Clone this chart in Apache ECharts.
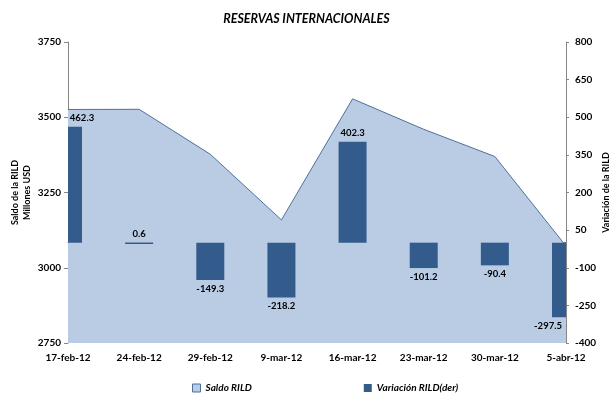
<!DOCTYPE html>
<html>
<head>
<meta charset="utf-8">
<script src="https://cdn.jsdelivr.net/npm/echarts@6/dist/echarts.min.js"></script>
<style>
  html, body { margin: 0; padding: 0; background: #fff; }
  #chart { width: 613px; height: 401px; }
</style>
</head>
<body>
<div id="chart"></div>
<script>
// fechas semanales
const fechas = ['17-feb-12', '24-feb-12', '29-feb-12', '9-mar-12', '16-mar-12', '23-mar-12', '30-mar-12', '5-abr-12'];
// saldo RILD (millones USD), eje izquierdo
const saldo = [3525.8, 3526.4, 3377.1, 3158.9, 3561.2, 3460.0, 3369.6, 3072.1];
// variacion RILD (der)
const variacion = [462.3, 0.6, -149.3, -218.2, 402.3, -101.2, -90.4, -297.5];

const FONT = 'Lato, "Liberation Sans", sans-serif';
const BAR_COLOR = '#335c8c';
const AREA_COLOR = '#b9cce4';
const chart = echarts.init(document.getElementById('chart'));

// desplazar etiqueta de la primera y ultima barra (cortadas por el borde)
const labelShift = { 0: 14, 7: -18 };

// barras centradas en las marcas, recortadas al area del grafico
function renderBar(params, api) {
  const i = api.value(0);
  const v = api.value(1);
  const base = api.coord([i, 0]);
  const end = api.coord([i, v]);
  const w = 28;
  const cs = params.coordSys;
  const rect = echarts.graphic.clipRectByRect({
    x: base[0] - w / 2,
    y: Math.min(base[1], end[1]),
    width: w,
    height: Math.max(Math.abs(end[1] - base[1]), 1.5)
  }, { x: cs.x, y: cs.y, width: cs.width, height: cs.height });
  const lx = base[0] + (labelShift[i] || 0);
  return {
    type: 'group',
    children: [
      rect && { type: 'rect', shape: rect, style: { fill: BAR_COLOR } },
      {
        type: 'text',
        x: lx,
        y: v >= 0 ? Math.min(base[1], end[1]) - 4 : Math.max(base[1], end[1]) + 4,
        style: {
          text: String(v),
          textAlign: 'center',
          textVerticalAlign: v >= 0 ? 'bottom' : 'top',
          font: 'bold 9.5px ' + FONT,
          fill: '#000'
        }
      }
    ].filter(Boolean)
  };
}

const axisText = { fontFamily: FONT, fontSize: 10, fontWeight: 'bold', color: '#000' };

const option = {
  animation: false,
  title: {
    text: 'RESERVAS INTERNACIONALES',
    left: 'center',
    top: 7,
    textStyle: { fontFamily: FONT, fontSize: 12.5, fontWeight: 'bold', fontStyle: 'italic', color: '#000' }
  },
  legend: {
    left: 187,
    bottom: 3,
    itemGap: 112,
    itemWidth: 8,
    itemHeight: 8,
    textStyle: { fontFamily: FONT, fontSize: 10, fontWeight: 'bold', fontStyle: 'italic', color: '#000' },
    data: [
      { name: 'Saldo RILD', icon: 'rect', itemStyle: { color: AREA_COLOR, borderColor: '#4f6f9c', borderWidth: 1 } },
      { name: 'Variación RILD(der)', icon: 'rect', itemStyle: { color: BAR_COLOR } }
    ]
  },
  grid: { left: 68, right: 47, top: 42, bottom: 58, outerBoundsMode: 'none', containLabel: false },
  xAxis: {
    type: 'category',
    data: fechas,
    boundaryGap: false,
    axisLine: { lineStyle: { color: '#868686' } },
    axisTick: { show: true, lineStyle: { color: '#868686' }, length: 4 },
    axisLabel: Object.assign({ margin: 10 }, axisText)
  },
  yAxis: [
    {
      type: 'value',
      min: 2750,
      max: 3750,
      interval: 250,
      name: 'Saldo de la RILD\nMillones USD',
      nameLocation: 'middle',
      nameGap: 35,
      nameMoveOverlap: false,
      nameTextStyle: Object.assign({ lineHeight: 12 }, axisText, { fontSize: 9 }),
      axisLine: { show: true, lineStyle: { color: '#868686' } },
      axisTick: { show: true, lineStyle: { color: '#868686' }, length: 4 },
      axisLabel: Object.assign({ margin: 7, formatter: v => String(v) }, axisText),
      splitLine: { show: false }
    },
    {
      type: 'value',
      min: -400,
      max: 800,
      interval: 150,
      position: 'right',
      name: 'Variación de la RILD\nMillones USD',
      nameLocation: 'middle',
      nameRotate: 90,
      nameGap: 34,
      nameMoveOverlap: false,
      nameTextStyle: Object.assign({ lineHeight: 12 }, axisText, { fontSize: 9 }),
      axisLine: { show: true, lineStyle: { color: '#868686' } },
      axisTick: { show: true, lineStyle: { color: '#868686' }, length: 3 },
      axisLabel: Object.assign({ margin: 9, formatter: v => String(v) }, axisText),
      splitLine: { show: false }
    }
  ],
  series: [
    {
      name: 'Saldo RILD',
      type: 'line',
      data: saldo,
      symbol: 'none',
      lineStyle: { color: '#4f6f9c', width: 1 },
      itemStyle: { color: AREA_COLOR },
      areaStyle: { color: AREA_COLOR, opacity: 1 },
      z: 1
    },
    {
      name: 'Variación RILD(der)',
      type: 'custom',
      yAxisIndex: 1,
      renderItem: renderBar,
      itemStyle: { color: BAR_COLOR },
      data: variacion.map((v, i) => [i, v]),
      encode: { x: 0, y: 1 },
      z: 2
    }
  ]
};

chart.setOption(option);
</script>
</body>
</html>
